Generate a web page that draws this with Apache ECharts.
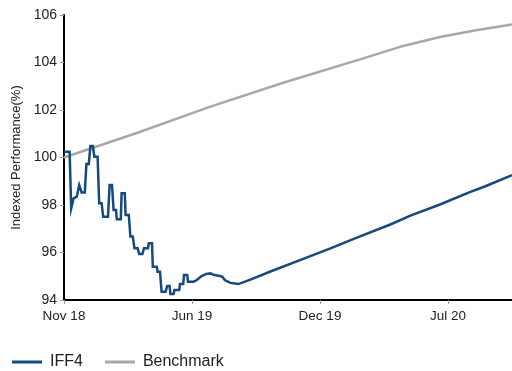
<!DOCTYPE html>
<html>
<head>
<meta charset="utf-8">
<script src="https://cdn.jsdelivr.net/npm/echarts@6/dist/echarts.min.js"></script>
<style>
  html, body { margin: 0; padding: 0; background: #fff; }
  #chart { width: 512px; height: 371px; }
</style>
</head>
<body>
<div id="chart"></div>
<script>
// Observation index along the horizontal axis (one tick every 160 observations)
const tickLabels = ['Nov 18', 'Jun 19', 'Dec 19', 'Jul 20'];
const tickStep = 160;
const lastObs = 560;

// IFF4 indexed performance
const iffObs = [
  0, 7, 9, 11, 12, 14, 16, 17, 19, 21, 22, 26, 28, 31, 33, 36, 38, 42, 44, 47,
  49, 55, 57, 60, 62, 65, 66, 71, 72, 76, 77, 81, 83, 86, 88, 92, 94, 98, 100, 105,
  106, 110, 111, 116, 117, 120, 122, 127, 129, 132, 133, 137, 138, 144, 145, 149, 150, 154, 155, 162,
  166, 172, 178, 183, 188, 195, 198, 201, 208, 218, 233, 258, 295, 333, 370, 408, 433, 470, 508, 526,
  560
];
const iffValues = [
  100.24, 100.24, 97.86, 97.86, 98.28, 98.28, 98.35, 98.35, 98.84, 98.84, 98.53, 98.53, 99.73, 99.73, 100.48, 100.48, 100.03, 100.03, 98.07, 98.07,
  97.51, 97.51, 98.84, 98.84, 97.79, 97.79, 97.40, 97.40, 98.49, 98.49, 97.58, 97.58, 96.67, 96.67, 96.18, 96.18, 95.94, 95.94, 96.18, 96.18,
  96.39, 96.39, 95.40, 95.40, 95.19, 95.19, 94.35, 94.35, 94.59, 94.59, 94.25, 94.25, 94.42, 94.42, 94.67, 94.67, 95.05, 95.05, 94.77, 94.77,
  94.84, 95.01, 95.10, 95.12, 95.05, 95.01, 94.98, 94.84, 94.72, 94.67, 94.86, 95.20, 95.68, 96.17, 96.68, 97.18, 97.55, 98.02, 98.55, 98.78,
  99.26
];

// Benchmark indexed performance
const benchObs = [0, 91, 183, 276, 370, 420, 470, 515, 560];
const benchValues = [100.00, 101.03, 102.14, 103.17, 104.13, 104.66, 105.07, 105.36, 105.60];

const pairs = (xs, ys) => xs.map((x, i) => [x, ys[i]]);

const chart = echarts.init(document.getElementById('chart'), null, { renderer: 'canvas' });
const font = 'Liberation Sans, Arial, sans-serif';

chart.setOption({
  animation: false,
  textStyle: { fontFamily: font },
  grid: { left: 64, right: 0, top: 15, bottom: 71, containLabel: false },
  xAxis: {
    type: 'value',
    min: 0,
    max: lastObs,
    interval: tickStep,
    splitLine: { show: false },
    axisLine: { show: true, onZero: false, lineStyle: { color: '#000', width: 2 } },
    axisTick: { show: true, length: 4, lineStyle: { color: '#999', width: 1 } },
    axisLabel: {
      margin: 9,
      color: '#222',
      fontSize: 13.5,
      fontFamily: font,
      showMaxLabel: false,
      formatter: v => {
        const k = v / tickStep;
        return Number.isInteger(k) && tickLabels[k] ? tickLabels[k] : '';
      }
    }
  },
  yAxis: {
    type: 'value',
    min: 94,
    max: 106,
    interval: 2,
    name: 'Indexed Performance(%)',
    nameLocation: 'middle',
    nameGap: 41,
    nameTextStyle: { color: '#222', fontSize: 13, fontFamily: font },
    splitLine: { show: false },
    axisLine: { show: true, lineStyle: { color: '#000', width: 2 } },
    axisTick: { show: true, length: 4, lineStyle: { color: '#999', width: 1 } },
    axisLabel: { margin: 7, color: '#222', fontSize: 14, fontFamily: font }
  },
  legend: {
    left: 7,
    top: 349,
    icon: 'rect',
    itemWidth: 30,
    itemHeight: 3,
    itemGap: 22,
    textStyle: { color: '#222', fontSize: 16, fontFamily: font, padding: [0, 0, 0, 3] },
    data: ['IFF4', 'Benchmark']
  },
  series: [
    {
      name: 'IFF4',
      type: 'line',
      data: pairs(iffObs, iffValues),
      showSymbol: false,
      symbol: 'none',
      lineStyle: { color: '#144a7e', width: 2.5, join: 'miter' },
      itemStyle: { color: '#144a7e' },
      z: 3
    },
    {
      name: 'Benchmark',
      type: 'line',
      data: pairs(benchObs, benchValues),
      showSymbol: false,
      symbol: 'none',
      lineStyle: { color: '#a8a8a8', width: 2.5 },
      itemStyle: { color: '#a8a8a8' },
      z: 2
    }
  ]
});
</script>
</body>
</html>
